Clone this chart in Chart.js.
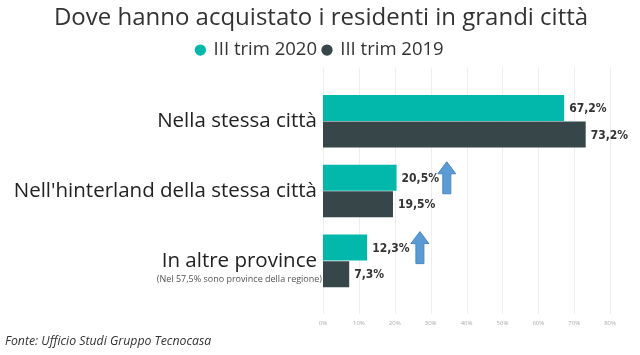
<!DOCTYPE html>
<html>
<head>
<meta charset="utf-8">
<script src="https://cdn.jsdelivr.net/npm/chart.js@4/dist/chart.umd.min.js"></script>
<style>
html,body{margin:0;padding:0;background:#fff;}
#wrap{width:640px;height:355px;position:relative;}
</style>
</head>
<body>
<div id="wrap"><canvas id="c" width="640" height="355"></canvas></div>
<script>
const titleText = "Dove hanno acquistato i residenti in grandi città";
const categories = ["Nella stessa città", "Nell'hinterland della stessa città", "In altre province"];
const categoryNotes = ["", "", "(Nel 57,5% sono province della regione)"];
const seriesNames = ["III trim 2020", "III trim 2019"];
const values2020 = [67.2, 20.5, 12.3];
const values2019 = [73.2, 19.5, 7.3];
const arrowPositions = [null, 34.5, 27]; // x value (%) where an "up" arrow is placed next to 2020 bar
const xTicks = [0, 10, 20, 30, 40, 50, 60, 70, 80];
const sourceText = "Fonte: Ufficio Studi Gruppo Tecnocasa";

const COL_A = "#01B8AA", COL_B = "#374649";
const FONT = "'Open Sans', 'Noto Sans', sans-serif";

function fmt(v){ return v.toFixed(1).replace('.', ',') + '%'; }

const legendSpace = {
  id: 'legendSpace',
  beforeInit(chart){
    const fitOrig = chart.legend.fit;
    chart.legend.fit = function(){
      fitOrig.bind(chart.legend)();
      this.height += 17;
    };
  },
  afterLayout(chart){
    chart.legend.left = 0;
    chart.legend.right = 640;
    chart.titleBlock.left = 0;
    chart.titleBlock.right = 642;
  }
};

const decor = {
  id: 'decor',
  beforeDatasetsDraw(chart){
    const ctx = chart.ctx;
    const xs = chart.scales.x, ca = chart.chartArea;
    ctx.save();
    ctx.strokeStyle = '#eeeeee';
    ctx.lineWidth = 1;
    xTicks.forEach(v => {
      const x = Math.round(xs.getPixelForValue(v)) + 0.5;
      ctx.beginPath();
      ctx.moveTo(x, ca.top - 18);
      ctx.lineTo(x, ca.bottom + 18);
      ctx.stroke();
    });
    ctx.restore();
  },
  afterDatasetsDraw(chart){
    const ctx = chart.ctx;
    const xs = chart.scales.x, ys = chart.scales.y;
    ctx.save();
    // value labels
    ctx.font = "bold 12px 'DejaVu Sans Condensed', 'DejaVu Sans', sans-serif";
    ctx.fillStyle = "#333";
    ctx.textBaseline = "middle";
    ctx.textAlign = "left";
    chart.data.datasets.forEach((ds, di) => {
      const meta = chart.getDatasetMeta(di);
      meta.data.forEach((bar, i) => {
        ctx.fillText(fmt(ds.data[i]), bar.x + 5, bar.y + 1);
      });
    });
    // arrows
    const meta0 = chart.getDatasetMeta(0);
    arrowPositions.forEach((p, i) => {
      if (p == null) return;
      const cx = xs.getPixelForValue(p);
      const cy = meta0.data[i].y;
      const h = 32, top = cy - h/2, bot = cy + h/2;
      const headH = 12, headW = 9, shaftW = 4;
      ctx.beginPath();
      ctx.moveTo(cx, top);
      ctx.lineTo(cx + headW, top + headH);
      ctx.lineTo(cx + shaftW, top + headH);
      ctx.lineTo(cx + shaftW, bot);
      ctx.lineTo(cx - shaftW, bot);
      ctx.lineTo(cx - shaftW, top + headH);
      ctx.lineTo(cx - headW, top + headH);
      ctx.closePath();
      ctx.fillStyle = "#5B9BD5";
      ctx.fill();
      ctx.strokeStyle = "#4A86C0";
      ctx.lineWidth = 1;
      ctx.stroke();
    });
    // category notes
    ctx.font = "9px " + FONT;
    ctx.fillStyle = "#555";
    ctx.textAlign = "right";
    categoryNotes.forEach((n, i) => {
      if (!n) return;
      const y = ys.getPixelForValue(i);
      ctx.fillText(n, ys.right - 1, y + 19);
    });
    // source
    ctx.font = "italic 12.3px " + FONT;
    ctx.fillStyle = "#333";
    ctx.textAlign = "left";
    ctx.fillText(sourceText, 5, 341);
    ctx.restore();
  }
};

new Chart(document.getElementById('c'), {
  type: 'bar',
  data: {
    labels: categories,
    datasets: [
      { label: seriesNames[0], data: values2020, backgroundColor: COL_A },
      { label: seriesNames[1], data: values2019, backgroundColor: COL_B }
    ]
  },
  options: {
    indexAxis: 'y',
    responsive: false,
    animation: false,
    layout: { padding: { left: 0, right: 28, top: 4, bottom: 4 } },
    datasets: { bar: { categoryPercentage: 0.76, barPercentage: 0.98 } },
    plugins: {
      title: {
        display: true, text: titleText,
        font: { family: FONT, size: 24, weight: 'normal' },
        color: '#333', padding: { top: 0, bottom: 2 }
      },
      legend: {
        display: true,
        labels: {
          usePointStyle: true, pointStyle: 'circle', boxWidth: 8, boxHeight: 8,
          font: { family: FONT, size: 18.5 }, color: '#333', padding: 6
        }
      },
      tooltip: { enabled: false }
    },
    scales: {
      x: {
        min: 0, max: 80,
        afterBuildTicks(scale){ scale.ticks = xTicks.map(v => ({ value: v })); },
        grid: { display: false, drawTicks: false },
        border: { display: false },
        ticks: {
          callback: v => v + '%', font: { family: FONT, size: 6 }, color: '#aaa', padding: 24
        }
      },
      y: {
        afterFit(scale){ scale.width = 323; },
        grid: { display: false, drawTicks: false },
        border: { display: false },
        ticks: { font: { family: FONT, size: 20.5 }, color: '#222', padding: 6 }
      }
    }
  },
  plugins: [legendSpace, decor]
});
</script>
</body>
</html>
